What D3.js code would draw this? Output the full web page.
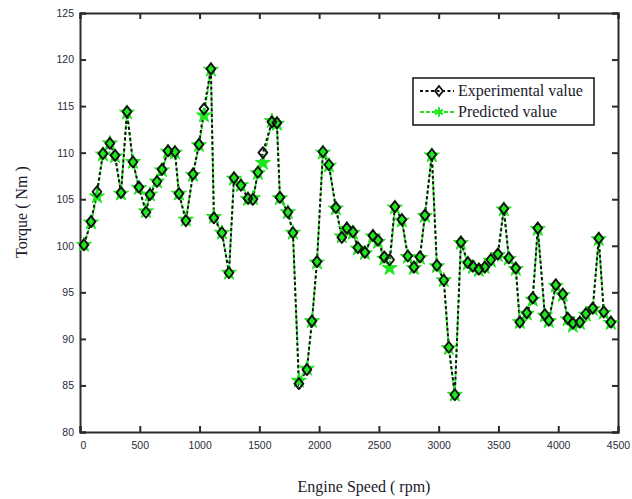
<!DOCTYPE html>
<html>
<head>
<meta charset="utf-8">
<script src="https://cdn.jsdelivr.net/npm/d3@7"></script>
<style>
  html, body { margin: 0; padding: 0; background: #fff; }
  svg { display: block; }
</style>
</head>
<body>
<script>
// Engine speed (rpm) of each measurement
const engineSpeed = [
  33, 92, 142, 192, 250, 293, 343, 393, 443, 493,
  552, 585, 644, 686, 736, 794, 828, 886, 945, 995,
  1037, 1095, 1120, 1187, 1246, 1288, 1346, 1405, 1447, 1488,
  1530, 1605, 1647, 1672, 1739, 1781, 1831, 1898, 1940, 1982,
  2032, 2082, 2140, 2190, 2232, 2283, 2324, 2383, 2450, 2492,
  2545, 2590, 2634, 2692, 2742, 2793, 2843, 2885, 2943, 2985,
  3043, 3085, 3135, 3186, 3244, 3286, 3336, 3386, 3436, 3495,
  3545, 3587, 3645, 3679, 3737, 3787, 3829, 3888, 3921, 3980,
  4038, 4080, 4122, 4181, 4231, 4289, 4339, 4381, 4440
];

// Measured torque (Nm)
const experimentalTorque = [
  100.1, 102.6, 105.8, 109.9, 111.0, 109.7, 105.7, 114.4, 109.0, 106.3,
  103.6, 105.5, 106.9, 108.2, 110.2, 110.1, 105.6, 102.7, 107.7, 110.9,
  114.7, 119.0, 103.0, 101.4, 97.1, 107.3, 106.5, 105.1, 105.0, 107.9,
  110.0, 113.3, 113.2, 105.2, 103.6, 101.4, 85.2, 86.7, 91.9, 98.3,
  110.1, 108.7, 104.1, 100.9, 101.9, 101.5, 99.8, 99.3, 101.1, 100.6,
  98.8, 98.5, 104.2, 102.8, 98.9, 97.7, 98.8, 103.3, 109.8, 97.9,
  96.3, 89.1, 84.0, 100.4, 98.2, 97.8, 97.5, 97.7, 98.5, 99.1,
  104.0, 98.7, 97.6, 91.8, 92.8, 94.4, 101.9, 92.6, 92.0, 95.8,
  94.8, 92.2, 91.7, 91.8, 92.7, 93.3, 100.8, 92.9, 91.8
];

// Model prediction of torque (Nm)
const predictedTorque = [
  100.1, 102.5, 105.3, 109.8, 111.0, 109.6, 105.6, 114.3, 109.0, 106.2,
  103.7, 105.5, 106.9, 108.1, 110.1, 110.0, 105.6, 102.8, 107.6, 110.8,
  114.0, 118.9, 103.1, 101.4, 97.1, 107.2, 106.5, 105.0, 105.1, 107.8,
  108.9, 113.4, 113.1, 105.1, 103.6, 101.4, 85.5, 86.8, 91.9, 98.2,
  110.0, 108.6, 104.0, 101.0, 101.8, 101.4, 99.7, 99.2, 101.0, 100.4,
  98.6, 97.6, 104.1, 102.7, 98.8, 97.6, 98.7, 103.2, 109.7, 97.8,
  96.3, 89.0, 84.0, 100.3, 98.1, 97.7, 97.4, 97.7, 98.4, 99.0,
  103.9, 98.6, 97.5, 91.8, 92.7, 94.2, 101.8, 92.5, 91.9, 95.7,
  94.7, 92.1, 91.4, 91.7, 92.6, 93.2, 100.7, 92.8, 91.7
];

const xTicks = [0, 500, 1000, 1500, 2000, 2500, 3000, 3500, 4000, 4500];
const yTicks = [80, 85, 90, 95, 100, 105, 110, 115, 120, 125];
const seriesNames = ["Experimental value", "Predicted value"];

const W = 632, H = 499;
const plot = { left: 80, right: 618, top: 13, bottom: 432 };
const GREEN = "#1de61d";
const AXIS = "#2a2a2a";

const svg = d3.select("body").append("svg")
  .attr("width", W).attr("height", H);

const x = d3.scaleLinear().domain([0, 4500]).range([plot.left, plot.right]);
const y = d3.scaleLinear().domain([80, 125]).range([plot.bottom, plot.top]);

const expData = engineSpeed.map((s, i) => [s, experimentalTorque[i]]);
const predData = engineSpeed.map((s, i) => [s, predictedTorque[i]]);

const line = d3.line().x(d => x(d[0])).y(d => y(d[1]));

// Frame with inward ticks on all four sides
const tickFont = "'Liberation Sans', Arial, sans-serif";
const axB = svg.append("g").attr("transform", `translate(0,${plot.bottom})`)
  .call(d3.axisBottom(x).tickValues(xTicks).tickSize(-6).tickPadding(10).tickFormat(d3.format("d")));
const axL = svg.append("g").attr("transform", `translate(${plot.left},0)`)
  .call(d3.axisLeft(y).tickValues(yTicks).tickSize(-6).tickPadding(6).tickFormat(d3.format("d")));
const axT = svg.append("g").attr("transform", `translate(0,${plot.top})`)
  .call(d3.axisTop(x).tickValues(xTicks).tickSize(-6).tickFormat(""));
const axR = svg.append("g").attr("transform", `translate(${plot.right},0)`)
  .call(d3.axisRight(y).tickValues(yTicks).tickSize(-6).tickFormat(""));

[axB, axL, axT, axR].forEach(g => {
  g.select(".domain").attr("stroke", AXIS).attr("stroke-width", 2);
  g.selectAll(".tick line").attr("stroke", AXIS).attr("stroke-width", 2);
  g.selectAll(".tick text")
    .attr("fill", "#2b2b3a")
    .style("font-family", tickFont)
    .style("font-size", "10.5px");
});
axB.selectAll(".tick text").attr("dx", (d) => d === 0 ? 3 : 0);

// Series lines
const plotG = svg.append("g");

plotG.append("path").datum(predData)
  .attr("d", line)
  .attr("fill", "none")
  .attr("stroke", GREEN)
  .attr("stroke-width", 1.8)
  .attr("stroke-dasharray", "4,2");

plotG.append("path").datum(expData)
  .attr("d", line)
  .attr("fill", "none")
  .attr("stroke", "#111")
  .attr("stroke-width", 2)
  .attr("stroke-dasharray", "3,2.5");

// Markers: green stars for the prediction, black diamonds for the measurements
const star = d3.symbol().type(d3.symbolStar).size(70);
const diamondPath = (s) => `M0,${-s}L${s*0.8},0L0,${s}L${-s*0.8},0Z`;

plotG.selectAll(".pred").data(predData).join("path")
  .attr("class", "pred")
  .attr("transform", d => `translate(${x(d[0])},${y(d[1])})`)
  .attr("d", star)
  .attr("fill", GREEN)
  .attr("stroke", GREEN)
  .attr("stroke-width", 1);

plotG.selectAll(".exp").data(expData).join("path")
  .attr("class", "exp")
  .attr("transform", d => `translate(${x(d[0])},${y(d[1])})`)
  .attr("d", diamondPath(5.5))
  .attr("fill", "none")
  .attr("stroke", "#111")
  .attr("stroke-width", 1.9)
  .attr("stroke-linejoin", "round");

// Axis titles
const serif = "'Liberation Serif', 'Times New Roman', serif";
svg.append("text")
  .attr("x", (plot.left + plot.right) / 2 + 15)
  .attr("y", 492)
  .attr("text-anchor", "middle")
  .style("font-family", serif)
  .style("font-size", "16px")
  .attr("fill", "#1a1a2a")
  .text("Engine Speed ( rpm)");

svg.append("text")
  .attr("transform", "translate(27,212) rotate(-90)")
  .attr("text-anchor", "middle")
  .style("font-family", serif)
  .style("font-size", "16px")
  .attr("fill", "#1a1a2a")
  .text("Torque ( Nm )");

// Legend
const lg = svg.append("g");
lg.append("rect")
  .attr("x", 413).attr("y", 78).attr("width", 181).attr("height", 47)
  .attr("fill", "#fff").attr("stroke", "#111").attr("stroke-width", 1.5);

const legendRows = [
  { name: seriesNames[0], y: 91, kind: "exp" },
  { name: seriesNames[1], y: 112, kind: "pred" }
];
legendRows.forEach(r => {
  if (r.kind === "exp") {
    lg.append("line").attr("x1", 420).attr("x2", 454).attr("y1", r.y).attr("y2", r.y)
      .attr("stroke", "#111").attr("stroke-width", 2).attr("stroke-dasharray", "3,2.5");
    lg.append("path").attr("transform", `translate(439,${r.y})`)
      .attr("d", diamondPath(5)).attr("fill", "none")
      .attr("stroke", "#111").attr("stroke-width", 1.8);
  } else {
    lg.append("line").attr("x1", 420).attr("x2", 454).attr("y1", r.y).attr("y2", r.y)
      .attr("stroke", GREEN).attr("stroke-width", 1.8).attr("stroke-dasharray", "4,2");
    lg.append("path").attr("transform", `translate(439,${r.y})`)
      .attr("d", d3.symbol().type(d3.symbolAsterisk).size(60))
      .attr("fill", "none").attr("stroke", GREEN).attr("stroke-width", 2);
  }
  lg.append("text")
    .attr("x", 458).attr("y", r.y + 5)
    .style("font-family", serif)
    .style("font-size", "16px")
    .attr("fill", "#1a1a2a")
    .text(r.name);
});
</script>
</body>
</html>
